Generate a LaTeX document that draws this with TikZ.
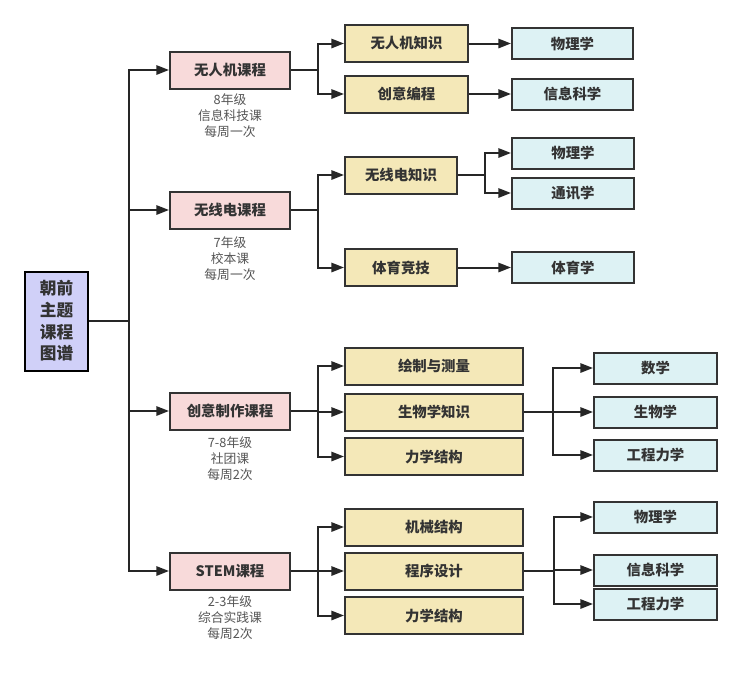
\documentclass[tikz,border=0pt]{standalone}
\usepackage{fontspec}
\setmainfont{Noto Sans CJK SC}
\usetikzlibrary{arrows.meta}
\definecolor{pinkf}{HTML}{F8DADA}
\definecolor{yelf}{HTML}{F4E8B8}
\definecolor{cyanf}{HTML}{DDF2F4}
\definecolor{rootf}{HTML}{D0D0F8}
\definecolor{bordc}{HTML}{333333}
\definecolor{txtc}{HTML}{333333}
\definecolor{subc}{HTML}{555555}
\newcommand\pxl[1]{#1*0.75pt}
\tikzset{
  box/.style={draw=bordc, line width=1.5pt, inner sep=0pt, font=\fontsize{10.8pt}{13pt}\selectfont\bfseries, text=txtc},
  rootbox/.style={box, fill=rootf, draw=black, minimum width=\pxl{63}, minimum height=\pxl{99}, align=center, font=\fontsize{12.5pt}{16.2pt}\selectfont\bfseries},
  lone/.style={box, fill=pinkf, minimum width=\pxl{120}, minimum height=\pxl{37}},
  ltwo/.style={box, fill=yelf, minimum height=\pxl{37}},
  lthree/.style={box, fill=cyanf, minimum height=\pxl{31}},
  sub/.style={font=\fontsize{9.6pt}{12.3pt}\selectfont, text=subc, align=center, inner sep=0pt, anchor=north},
  conn/.style={line width=1.5pt, draw=black!85},
  arr/.style={conn, -{Triangle[length=9.5pt,width=7pt]}}
}
\begin{document}
\begin{tikzpicture}[x=0.75pt,y=-0.75pt]
\useasboundingbox (0,0) rectangle (742,676);
% root
\node[rootbox] (root) at (56.5,321) {朝前\\主题\\课程\\图谱};
% level 1
\node[lone] (a) at (230,70) {无人机课程};
\node[lone] (b) at (230,210) {无线电课程};
\node[lone] (c) at (230,411) {创意制作课程};
\node[lone] (d) at (230,571) {STEM课程};
\node[sub] (as) at (230,93) {8年级\\信息科技课\\每周一次};
\node[sub] (bs) at (230,236) {7年级\\校本课\\每周一次};
\node[sub] (cs) at (230,436) {7-8年级\\社团课\\每周2次};
\node[sub] (ds) at (230,595) {2-3年级\\综合实践课\\每周2次};
% level 2
\node[ltwo, minimum width=\pxl{123}] (a1) at (406.5,43.5) {无人机知识};
\node[ltwo, minimum width=\pxl{123}] (a2) at (406.5,94) {创意编程};
\node[ltwo, minimum width=\pxl{112}] (b1) at (401,175) {无线电知识};
\node[ltwo, minimum width=\pxl{112}] (b2) at (401,267.5) {体育竞技};
\node[ltwo, minimum width=\pxl{178}] (c1) at (434,366) {绘制与测量};
\node[ltwo, minimum width=\pxl{178}] (c2) at (434,412) {生物学知识};
\node[ltwo, minimum width=\pxl{178}] (c3) at (434,456.5) {力学结构};
\node[ltwo, minimum width=\pxl{178}] (d1) at (434,527) {机械结构};
\node[ltwo, minimum width=\pxl{178}] (d2) at (434,571) {程序设计};
\node[ltwo, minimum width=\pxl{178}] (d3) at (434,615.5) {力学结构};
% level 3
\node[lthree, minimum width=\pxl{121}] (a1x) at (572.5,43.5) {物理学};
\node[lthree, minimum width=\pxl{121}] (a2x) at (572.5,94) {信息科学};
\node[lthree, minimum width=\pxl{122}] (b1x) at (573,153) {物理学};
\node[lthree, minimum width=\pxl{122}] (b1y) at (573,193) {通讯学};
\node[lthree, minimum width=\pxl{122}] (b2x) at (573,267.5) {体育学};
\node[lthree, minimum width=\pxl{123}] (c2x) at (655.5,368) {数学};
\node[lthree, minimum width=\pxl{123}] (c2y) at (655.5,412) {生物学};
\node[lthree, minimum width=\pxl{123}] (c2z) at (655.5,455) {工程力学};
\node[lthree, minimum width=\pxl{123}] (d2x) at (655.5,517) {物理学};
\node[lthree, minimum width=\pxl{123}] (d2y) at (655.5,570) {信息科学};
\node[lthree, minimum width=\pxl{123}] (d2z) at (655.5,604) {工程力学};
% root to level 1
\foreach \t in {a,b,c,d}
  \draw[arr] (root.east) -- ++(40,0) |- (\t.west);
% level 1 to level 2
\foreach \s/\t in {a/a1,a/a2,b/b1,b/b2,c/c1,c/c2,c/c3,d/d1,d/d2,d/d3}
  \draw[arr] (\s.east) -- ++(27,0) |- (\t.west);
% level 2 to level 3
\draw[arr] (a1.east) -- (a1x.west);
\draw[arr] (a2.east) -- (a2x.west);
\foreach \t in {b1x,b1y}
  \draw[arr] (b1.east) -- ++(27,0) |- (\t.west);
\draw[arr] (b2.east) -- (b2x.west);
\foreach \t in {c2x,c2y,c2z}
  \draw[arr] (c2.east) -- ++(29,0) |- (\t.west);
\foreach \t in {d2x,d2y,d2z}
  \draw[arr] (d2.east) -- ++(30,0) |- (\t.west);
\end{tikzpicture}
\end{document}
